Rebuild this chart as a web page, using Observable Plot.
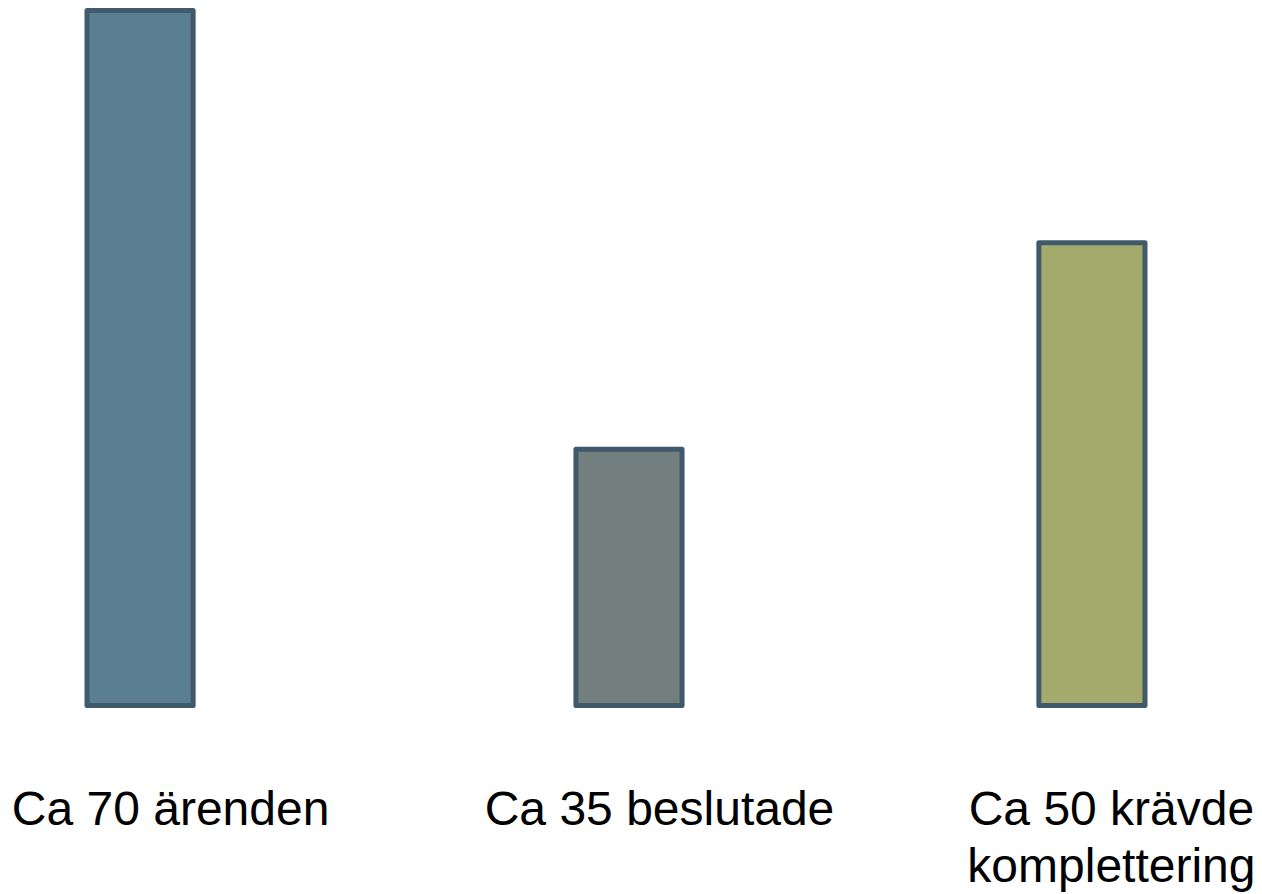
<!DOCTYPE html>
<html>
<head>
<meta charset="utf-8">
<script src="https://cdn.jsdelivr.net/npm/d3@7"></script>
<script src="https://cdn.jsdelivr.net/npm/@observablehq/plot@0.6"></script>
<style>
  html, body { margin: 0; padding: 0; background: #fff; }
  #chart svg { display: block; }
</style>
</head>
<body>
<div id="chart"></div>
<script>
const categories = ["Ca 70 ärenden", "Ca 35 beslutade", "Ca 50 krävde\nkomplettering"];
const values = [70, 25.8, 46.6];
const fills = ["#5a7f92", "#727f7e", "#a4aa6b"];

const data = categories.map((c, i) => ({category: c, value: values[i], fill: fills[i], i}));

// small horizontal nudges (px) to match the reference's uneven spacing
const barShift = [0, 13, 0];
const labelShift = [30, 43, 19];

const marks = [];
data.forEach((d, i) => {
  marks.push(Plot.barY([d], {
    x: "category", y: "value", fill: "fill",
    stroke: "#405a6b", strokeWidth: 5, strokeLinejoin: "round", dx: barShift[i]
  }));
  marks.push(Plot.text([d], {
    x: "category", text: "category", frameAnchor: "bottom",
    lineAnchor: "top", dy: 78, dx: labelShift[i], fontSize: 48, fill: "#000", lineHeight: 1.2
  }));
});

const chart = Plot.plot({
  width: 1262,
  height: 894,
  marginLeft: 87,
  marginRight: 117,
  marginTop: 10.5,
  marginBottom: 188.5,
  style: {fontFamily: "'Liberation Sans', Arial, sans-serif", background: "#fff"},
  x: {domain: categories, paddingInner: 0.777, paddingOuter: 0, round: false, axis: null},
  y: {domain: [0, 70], axis: null},
  color: {type: "identity"},
  marks
});
document.getElementById("chart").appendChild(chart);
</script>
</body>
</html>
